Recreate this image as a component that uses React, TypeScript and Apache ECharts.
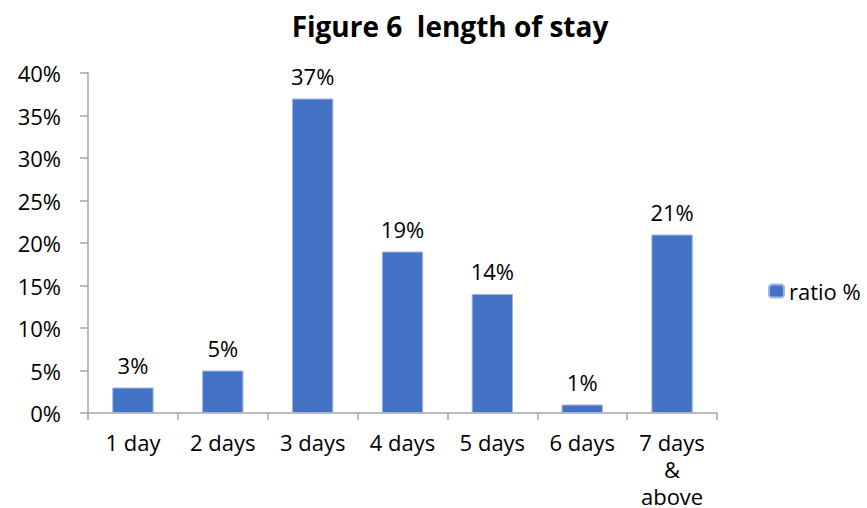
import React, { useEffect, useRef } from "react";
import * as echarts from "echarts";

const categories = ["1 day", "2 days", "3 days", "4 days", "5 days", "6 days", "7 days\n&\nabove"];
const ratioValues = [3, 5, 37, 19, 14, 1, 21];
const yTicks = { min: 0, max: 40, interval: 5 };
const seriesName = "ratio %";
const titleText = "Figure 6  length of stay";

const FONT = "'Open Sans', sans-serif";

export default function App() {
  const ref = useRef<HTMLDivElement>(null);

  useEffect(() => {
    if (!ref.current) return;
    const chart = echarts.init(ref.current, null, { renderer: "svg" });
    chart.setOption({
      animation: false,
      backgroundColor: "#ffffff",
      textStyle: { fontFamily: FONT },
      title: {
        text: titleText,
        left: 445,
        textAlign: "center",
        top: 7,
        textStyle: { fontFamily: FONT, fontWeight: "bold", fontSize: 28, color: "#000" },
      },
      legend: {
        data: [seriesName],
        left: 763,
        top: 275,
        itemWidth: 15,
        itemHeight: 13,
        itemGap: 6,
        textStyle: { fontFamily: FONT, fontSize: 22, color: "#000" },
      },
      grid: {
        left: 88,
        right: 150,
        top: 73,
        bottom: 95,
        containLabel: false,
        outerBoundsMode: "none",
      },
      xAxis: {
        type: "category",
        data: categories,
        axisLine: { lineStyle: { color: "#a6a6a6", width: 1.5 } },
        axisTick: { show: true, length: 7, alignWithLabel: false, lineStyle: { color: "#a6a6a6", width: 1.5 } },
        axisLabel: {
          interval: 0,
          margin: 15,
          fontFamily: FONT,
          fontSize: 22,
          lineHeight: 27,
          color: "#000",
        },
      },
      yAxis: {
        type: "value",
        min: yTicks.min,
        max: yTicks.max,
        interval: yTicks.interval,
        splitLine: { show: false },
        axisLine: { show: true, lineStyle: { color: "#a6a6a6", width: 1.5 } },
        axisTick: { show: true, length: 8, lineStyle: { color: "#a6a6a6", width: 1.5 } },
        axisLabel: {
          formatter: "{value}%",
          margin: 27,
          fontFamily: FONT,
          fontSize: 22,
          color: "#000",
        },
      },
      series: [
        {
          name: seriesName,
          type: "bar",
          data: ratioValues,
          barWidth: "46%",
          itemStyle: { color: "#4472c4", borderColor: "#9fb6e2", borderWidth: 1 },
          label: {
            show: true,
            position: "top",
            distance: 12,
            formatter: "{c}%",
            fontFamily: FONT,
            fontSize: 22,
            color: "#000",
          },
        },
      ],
    });
    return () => chart.dispose();
  }, []);

  return <div ref={ref} style={{ width: 867, height: 508, position: "absolute", left: 0, top: 0 }} />;
}
